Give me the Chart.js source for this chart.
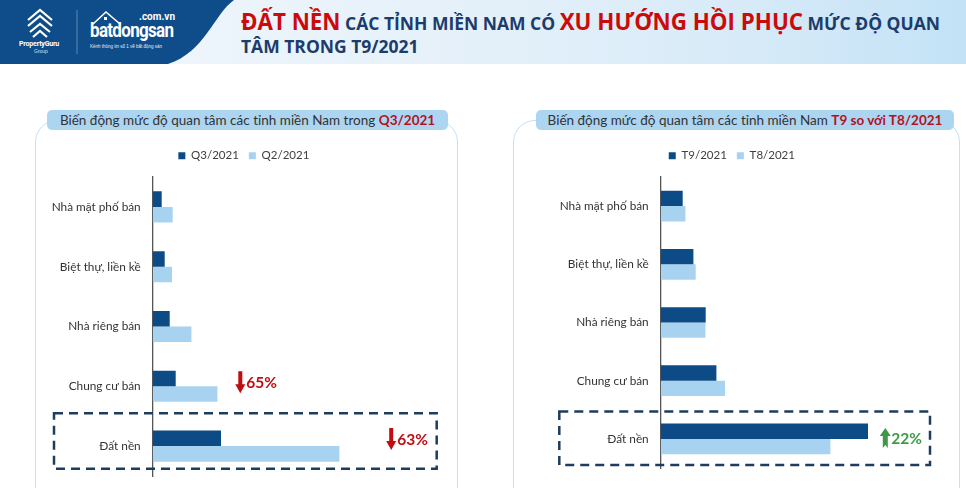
<!DOCTYPE html>
<html><head><meta charset="utf-8">
<script src="https://cdn.jsdelivr.net/npm/chart.js@4.4.0/dist/chart.umd.min.js"></script>
<style>
body{margin:0;width:966px;height:488px;overflow:hidden;background:#fff;position:relative;font-family:Lato,"Open Sans",sans-serif}
#hdr{position:absolute;left:0;top:0;width:966px;height:64px;background:linear-gradient(90deg,#f3f8fc 0%,#e6f1fa 45%,#d9ebf8 75%,#c3e2f6 100%)}
#hdr svg{position:absolute;left:0;top:0}
.ttl{position:absolute;left:241px;font-family:"Open Sans",sans-serif;font-weight:bold;color:#1c3c6c;font-size:18px;white-space:nowrap;transform-origin:0 0}
.ttl .r{color:#cc0a0a;font-size:23px}
.panel{position:absolute;border:1.5px solid #c4e0f4;border-radius:22px;box-sizing:border-box}
.tbox{position:absolute;background:#acd5f1;border-radius:5px;height:20px;line-height:20px;text-align:center;font-size:13.5px;color:#333;white-space:nowrap}
.tbox b{color:#b3121f}
canvas{position:absolute}
</style></head><body>
<div id="hdr">
<svg width="240" height="64" viewBox="0 0 240 64">
<path d="M0 0 H234 C 214 14, 205 52, 168 64 H0 Z" fill="#0e4c8a"/>
<g fill="none" stroke="#fff" stroke-width="2.2">
<path d="M28 20 L40 10 L52 20 M28 26 L40 16 L52 26 M30 32 L40 24 L50 32 M33 37 L40 31 L47 37"/>
</g>
<line x1="77" y1="10" x2="77" y2="54" stroke="#5d86b4" stroke-width="1"/>
<path d="M93 24 L106 12 L120 24" fill="none" stroke="#fff" stroke-width="1.6"/>
<rect x="104" y="17" width="3" height="3" fill="#fff"/>
</svg>
<div style="position:absolute;left:19px;top:40px;color:#fff;font:bold 7px Roboto,sans-serif;letter-spacing:-0.2px">PropertyGuru</div>
<div style="position:absolute;left:34px;top:48px;color:#cfe0f0;font:5px sans-serif">Group</div>
<div style="position:absolute;left:139px;top:11px;color:#fff;font:bold 10px Roboto,sans-serif">.com.vn</div>
<div style="position:absolute;left:90px;top:18px;color:#fff;font:bold 20px Roboto,sans-serif;letter-spacing:-0.8px;transform:scaleX(0.85);transform-origin:0 0">batdongsan</div>
<div style="position:absolute;left:90px;top:44px;color:#e6eef7;font:4.5px sans-serif;white-space:nowrap">Kênh thông tin số 1 về bất động sản</div>
<div class="ttl" id="t1" style="top:5px"><span class="r">ĐẤT NỀN</span> CÁC TỈNH MIỀN NAM CÓ <span class="r">XU HƯỚNG HỒI PHỤC</span> MỨC ĐỘ QUAN</div>
<div class="ttl" id="t2" style="top:34px">TÂM TRONG T9/2021</div>
</div>

<div class="panel" style="left:35px;top:120px;width:423px;height:400px"></div>
<div class="panel" style="left:513px;top:120px;width:447px;height:400px"></div>
<div class="tbox" style="left:47px;top:110px;width:401px">Biến động mức độ quan tâm các tỉnh miền Nam trong <b>Q3/2021</b></div>
<div class="tbox" style="left:536px;top:110px;width:418px">Biến động mức độ quan tâm các tỉnh miền Nam <b>T9 so với T8/2021</b></div>

<canvas id="c1" width="423" height="348" style="left:35px;top:140px"></canvas>
<canvas id="c2" width="447" height="348" style="left:513px;top:140px"></canvas>

<script>
// ---- data ----
const categories = ['Nhà mặt phố bán', 'Biệt thự, liền kề', 'Nhà riêng bán', 'Chung cư bán', 'Đất nền'];
const seriesQ3 = [9, 12, 17, 23, 68.3];
const seriesQ2 = [20, 19.3, 38.7, 64.7, 186.7];
const seriesT9 = [22, 32.7, 45, 55.7, 207.3];
const seriesT8 = [24.7, 35, 44.7, 64.3, 169.7];
const leftLegend = ['Q3/2021', 'Q2/2021'];
const rightLegend = ['T9/2021', 'T8/2021'];
const leftNotes = [{cat: 'Chung cư bán', text: '65%', dir: 'down'}, {cat: 'Đất nền', text: '63%', dir: 'down'}];
const rightNotes = [{cat: 'Đất nền', text: '22%', dir: 'up'}];

// fit header title width
(function () {
  const t1 = document.getElementById('t1'), t2 = document.getElementById('t2');
  const k = 699 / t1.getBoundingClientRect().width;
  t1.style.transform = 'scaleX(' + k + ')';
  t2.style.transform = 'scaleX(' + k + ')';
})();

const DARK = '#0d4b87', LIGHT = '#a7d3f1';
const FONT = 'Lato, "Open Sans", sans-serif';

function arrow(ctx, x, cy, dir, color) {
  ctx.save(); ctx.fillStyle = color; ctx.beginPath();
  if (dir === 'down') {
    const top = cy - 11, tip = cy + 11;
    ctx.moveTo(x - 2, top); ctx.lineTo(x + 2, top); ctx.lineTo(x + 2, tip - 9);
    ctx.lineTo(x + 5, tip - 9); ctx.lineTo(x, tip); ctx.lineTo(x - 5, tip - 9); ctx.lineTo(x - 2, tip - 9);
  } else {
    const tip = cy - 10, bot = cy + 10;
    ctx.moveTo(x, tip); ctx.lineTo(x + 5.5, tip + 8); ctx.lineTo(x + 2.5, tip + 8); ctx.lineTo(x + 2.5, bot);
    ctx.lineTo(x, bot - 3); ctx.lineTo(x - 2.5, bot); ctx.lineTo(x - 2.5, tip + 8); ctx.lineTo(x - 5.5, tip + 8);
  }
  ctx.closePath(); ctx.fill(); ctx.restore();
}

const notesPlugin = {
  id: 'notes',
  afterDatasetsDraw(chart, args, o) {
    const ctx = chart.ctx, ys = chart.scales.y, xs = chart.scales.x;
    const step = ys.getPixelForValue(1) - ys.getPixelForValue(0);
    (o.items || []).forEach((n, i) => {
      const cy = ys.getPixelForValue(chart.data.labels.indexOf(n.cat)) + (o.dy[i] || 0);
      const ax = xs.getPixelForValue(o.at[i]);
      arrow(ctx, ax, cy, n.dir, o.color);
      ctx.save(); ctx.font = 'bold 15.5px ' + FONT; ctx.fillStyle = o.color;
      ctx.textBaseline = 'middle'; ctx.textAlign = 'left';
      ctx.fillText(n.text, ax + 6, cy + 1); ctx.restore();
    });
    if (o.box) {
      const cy = ys.getPixelForValue(chart.data.labels.indexOf(o.box.cat));
      ctx.save(); ctx.strokeStyle = '#1d3c5e'; ctx.lineWidth = 2.5; ctx.setLineDash([9, 6]);
      const l = o.box.left, r = chart.width - o.box.right;
      const t = cy - o.box.up * step, b = cy + o.box.down * step;
      ctx.strokeRect(l, t, r - l, b - t); ctx.restore();
    }
  }
};

const legendPad = {
  id: 'legendPad',
  beforeInit(chart) {
    const lg = chart.legend; const orig = lg.fit;
    lg.fit = function () { orig.call(this); this.height = 37; };
  }
};

function make(id, d1, d2, names, axisW, max, padR, padB, notes, at, dy, color, box, catPct) {
  new Chart(document.getElementById(id), {
    type: 'bar',
    data: { labels: categories, datasets: [
      { label: names[0], data: d1, backgroundColor: DARK, barPercentage: 1, categoryPercentage: catPct },
      { label: names[1], data: d2, backgroundColor: LIGHT, barPercentage: 1, categoryPercentage: catPct }
    ]},
    options: {
      indexAxis: 'y', responsive: false, animation: false,
      layout: { padding: { right: padR, bottom: padB, left: 0, top: 0 } },
      scales: {
        x: { display: false, min: 0, max: max },
        y: {
          grid: { display: false, drawTicks: false },
          border: { display: true, color: '#555', width: 1.3 },
          ticks: { color: '#333', font: { family: FONT, size: 11.8 }, padding: 12 },
          afterFit(s) { s.width = axisW; s.paddingTop = 0; s.paddingBottom = 0; }
        }
      },
      plugins: {
        legend: { position: 'top', labels: { boxWidth: 7, boxHeight: 7, color: '#404040', padding: 10, font: { family: FONT, size: 11.5 } } },
        tooltip: { enabled: false },
        notes: { items: notes, at: at, dy: dy, color: color, box: box }
      }
    },
    plugins: [notesPlugin, legendPad]
  });
}

make('c1', seriesQ3, seriesQ2, leftLegend, 117.7, 300, 5.3, 12, leftNotes, [87.6, 238.5], [-4, -7], '#c00d12',
  { cat: 'Đất nền', left: 19, right: 21.3, up: 0.55, down: 0.38 }, 0.52);
make('c2', seriesT9, seriesT8, rightLegend, 147.7, 290, 9.3, 20, rightNotes, [224.6], [-1], '#3c9a46',
  { cat: 'Đất nền', left: 46.3, right: 30, up: 0.47, down: 0.45 }, 0.527);
</script>
</body></html>
